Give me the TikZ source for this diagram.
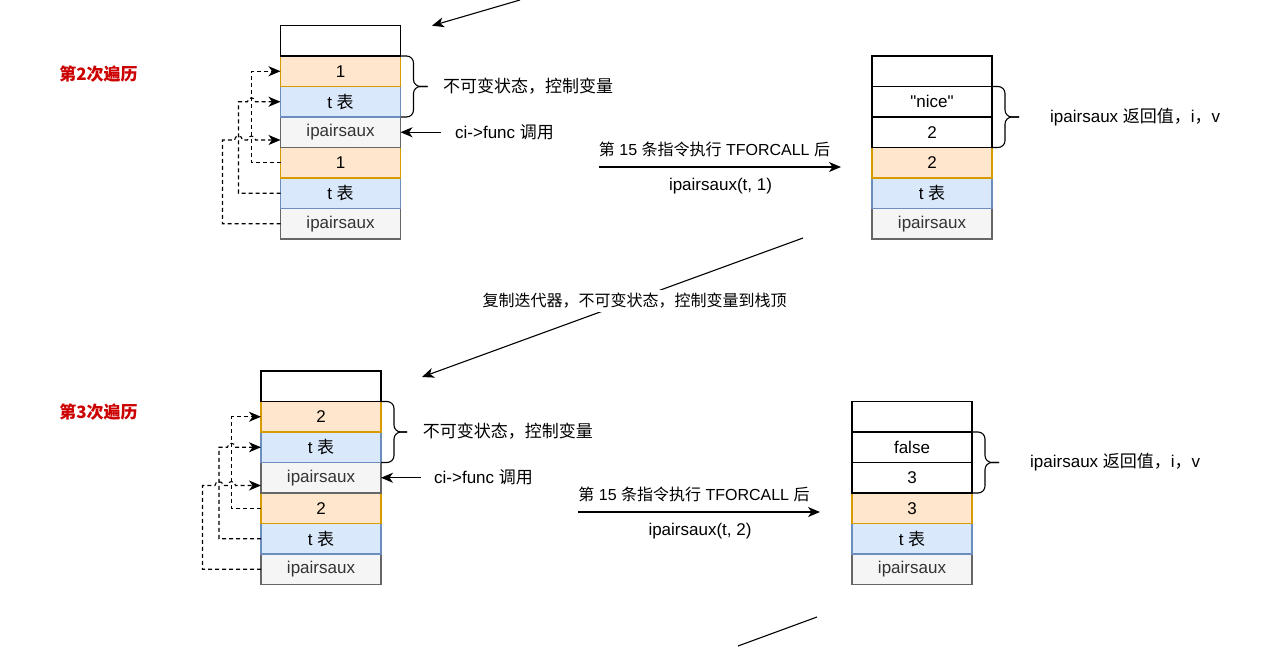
\documentclass[tikz,border=0pt]{standalone}
\usepackage{fontspec}
\setmainfont{Liberation Sans}
\newfontfamily\plainsans{Liberation Sans}[Ligatures=TeXOff]
\newfontfamily\cjk{Noto Sans CJK SC}
\usetikzlibrary{arrows.meta,calc}
\definecolor{orfill}{HTML}{FFE6CC}
\definecolor{orline}{HTML}{D79B00}
\definecolor{blfill}{HTML}{DAE8FC}
\definecolor{blline}{HTML}{6C8EBF}
\definecolor{grfill}{HTML}{F5F5F5}
\definecolor{grline}{HTML}{666666}
\definecolor{grtext}{HTML}{333333}
\definecolor{redlab}{HTML}{CC0000}
\begin{document}
\begin{tikzpicture}[x=1pt,y=-1pt,
  cell/.style={draw, line width=1.1pt, minimum width=120pt, minimum height=30.5pt, inner sep=0pt, outer sep=0pt, font=\fontsize{17}{20}\selectfont},
  cellw/.style={cell, fill=white, draw=black},
  cello/.style={cell, fill=orfill, draw=orline},
  cellb/.style={cell, fill=blfill, draw=blline},
  cellg/.style={cell, fill=grfill, draw=grline, text=grtext},
  lab/.style={font=\fontsize{17}{20}\selectfont, inner sep=0pt},
  smalllab/.style={font=\fontsize{16}{19}\selectfont, inner sep=0pt},
  redtitle/.style={font=\fontsize{17}{20}\cjk\bfseries, text=redlab, inner sep=0pt},
  arr/.style={line width=1.1pt, -{Stealth[length=12pt,width=10pt,inset=3.5pt]}},
  dashline/.style={arr, dash pattern=on 4pt off 3pt},
  bracepath/.style={line width=1.1pt, rounded corners=7pt},
]
\useasboundingbox (0,0) rectangle (1266,646);

% titles
\node[redtitle] (title2) at (98.5,74) {第2次遍历};
\node[redtitle] (title3) at (98.5,412) {第3次遍历};

% ---------- stack A ----------
\node[cellg] (a6) at (340.5,223.75) {ipairsaux};
\node[cellb] (a5) at (340.5,193.25) {t {\cjk 表}};
\node[cello] (a4) at (340.5,162.75) {1};
\node[cellg] (a3) at (340.5,132.25) {ipairsaux};
\node[cellb] (a2) at (340.5,101.75) {t {\cjk 表}};
\node[cello] (a1) at (340.5,71.25) {1};
\node[cellw] (a0) at (340.5,40.75) {};

\draw[bracepath] (a1.north east) -- ++(13,0) |- ($(a1.south east)+(27,0)$);
\draw[bracepath] (a2.south east) -- ++(13,0) |- ($(a2.north east)+(27,0)$);
\node[lab, anchor=west] (ta) at (443,86.5) {\cjk 不可变状态，控制变量};

\coordinate (ca) at (440.5,132.25);
\draw[arr] (ca) -- (a3.east);
\node[lab, anchor=west] (tca) at (455,132.25) {ci->func {\cjk 调用}};

\draw[dashline] (a4.west) -- ++(-29,0) |- (a1.west);
\draw[dashline] (a5.west) -- ++(-42,0) -- (238.5,101.75) -- (247.5,101.75)
  .. controls (247.5,96.5) and (255.5,96.5) .. (255.5,101.75) -- (a2.west);
\draw[dashline] (a6.west) -- ++(-58,0) -- (222.5,140) -- (234.5,140)
  .. controls (234.5,134.75) and (242.5,134.75) .. (242.5,140) -- (247.5,140)
  .. controls (247.5,134.75) and (255.5,134.75) .. (255.5,140) -- ([yshift=-7.75pt]a3.west);

\coordinate (t1) at (520,0);
\coordinate (t2) at (432,25.7);
\draw[arr] (t1) -- (t2);

% ---------- stack B ----------
\node[cellg] (b5) at (932,223.75) {ipairsaux};
\node[cellb] (b4) at (932,193.25) {t {\cjk 表}};
\node[cello] (b3) at (932,162.75) {2};
\node[cellw] (b2) at (932,132.25) {2};
\node[cellw] (b1) at (932,101.75) {{\plainsans "nice"}};
\node[cellw] (b0) at (932,71.25) {};

\draw[bracepath] (b1.north east) -- ++(13,0) |- ($(b1.south east)+(27,0)$);
\draw[bracepath] (b2.south east) -- ++(13,0) |- ($(b2.north east)+(27,0)$);
\node[lab, anchor=west] (tb) at (1050,117) {ipairsaux {\cjk 返回值，}i{\cjk ，}v};

\coordinate (s1) at (599,167);
\coordinate (e1) at (841,167);
\draw[arr] (s1) -- (e1);
\node[smalllab] (l1a) at (714.5,149) {{\cjk 第} 15 {\cjk 条指令执行} TFORCALL {\cjk 后}};
\node[lab] (l1b) at (720.5,186) {ipairsaux(t, 1)};

% ---------- diagonal ----------
\coordinate (g1) at (803,238);
\coordinate (g2) at (422,377);
\draw[arr] (g1) -- (g2);
\node[smalllab, fill=white, inner sep=3pt] (lg) at (634.5,301) {\cjk 复制迭代器，不可变状态，控制变量到栈顶};

% ---------- stack C ----------
\node[cellg] (c6) at (321,569.25) {ipairsaux};
\node[cellb] (c5) at (321,538.75) {t {\cjk 表}};
\node[cello] (c4) at (321,508.25) {2};
\node[cellg] (c3) at (321,477.75) {ipairsaux};
\node[cellb] (c2) at (321,447.25) {t {\cjk 表}};
\node[cello] (c1) at (321,416.75) {2};
\node[cellw] (c0) at (321,386.25) {};

\draw[bracepath] (c1.north east) -- ++(13,0) |- ($(c1.south east)+(26,0)$);
\draw[bracepath] (c2.south east) -- ++(13,0) |- ($(c2.north east)+(26,0)$);
\node[lab, anchor=west] (tc) at (422.7,431.5) {\cjk 不可变状态，控制变量};

\coordinate (cc) at (420.5,477.75);
\draw[arr] (cc) -- (c3.east);
\node[lab, anchor=west] (tcc) at (434,477.75) {ci->func {\cjk 调用}};

\draw[dashline] (c4.west) -- ++(-29.5,0) |- (c1.west);
\draw[dashline] (c5.west) -- ++(-42,0) -- (219,447.25) -- (227.5,447.25)
  .. controls (227.5,442) and (235.5,442) .. (235.5,447.25) -- (c2.west);
\draw[dashline] (c6.west) -- ++(-58.5,0) -- (202.5,485.5) -- (215,485.5)
  .. controls (215,480.25) and (223,480.25) .. (223,485.5) -- (227.5,485.5)
  .. controls (227.5,480.25) and (235.5,480.25) .. (235.5,485.5) -- ([yshift=-7.75pt]c3.west);

% ---------- stack D ----------
\node[cellg] (d5) at (912,569.25) {ipairsaux};
\node[cellb] (d4) at (912,538.75) {t {\cjk 表}};
\node[cello] (d3) at (912,508.25) {3};
\node[cellw] (d2) at (912,477.75) {3};
\node[cellw] (d1) at (912,447.25) {false};
\node[cellw] (d0) at (912,416.75) {};

\draw[bracepath] (d1.north east) -- ++(13,0) |- ($(d1.south east)+(27,0)$);
\draw[bracepath] (d2.south east) -- ++(13,0) |- ($(d2.north east)+(27,0)$);
\node[lab, anchor=west] (td) at (1030,462.5) {ipairsaux {\cjk 返回值，}i{\cjk ，}v};

\coordinate (s2) at (578,512);
\coordinate (e2) at (820,512);
\draw[arr] (s2) -- (e2);
\node[smalllab] (l2a) at (694,494) {{\cjk 第} 15 {\cjk 条指令执行} TFORCALL {\cjk 后}};
\node[lab] (l2b) at (700,531) {ipairsaux(t, 2)};

% ---------- bottom line ----------
\coordinate (h1) at (817,617);
\coordinate (h2) at (738,646);
\draw[line width=1.1pt] (h1) -- (h2);
\end{tikzpicture}
\end{document}
